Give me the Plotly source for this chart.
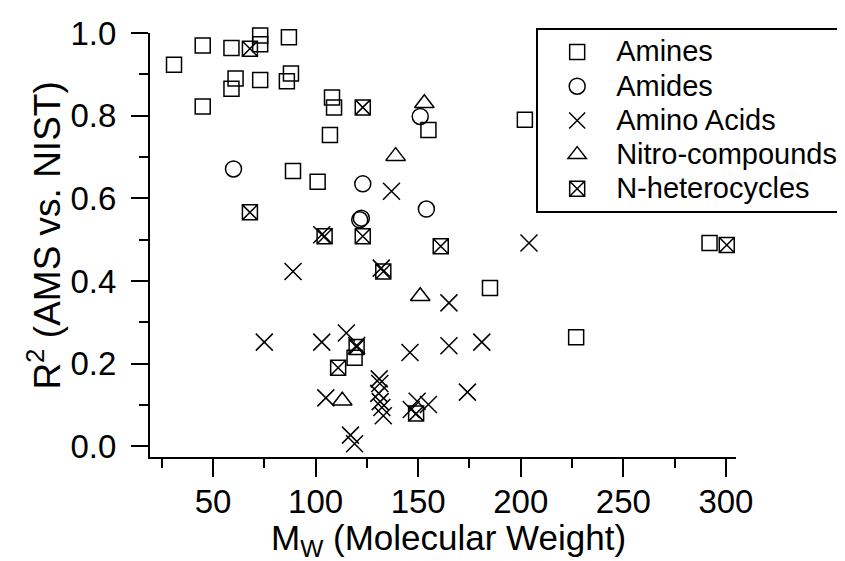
import plotly.graph_objects as go

# ---- data ----
amines_mw = [31, 45, 59, 73, 73, 87, 61, 59, 73, 88, 86, 45, 108, 109, 107, 89, 101, 155, 202, 185, 227, 119, 292]
amines_r2 = [0.923, 0.970, 0.964, 0.994, 0.973, 0.990, 0.890, 0.865, 0.886, 0.902, 0.883, 0.822, 0.844, 0.820, 0.753, 0.666, 0.640, 0.765, 0.790, 0.383, 0.264, 0.214, 0.492]

amides_mw = [60, 123, 121.5, 122.3, 151, 154]
amides_r2 = [0.671, 0.635, 0.548, 0.552, 0.798, 0.574]

amino_mw = [137, 103, 89, 132, 75, 103, 115, 120, 105, 117, 119, 131, 131.3, 130.8, 131.5, 132.3, 133,
            204, 165, 146, 165, 181, 174, 149.5, 155, 146.6]
amino_r2 = [0.617, 0.512, 0.423, 0.431, 0.252, 0.252, 0.274, 0.244, 0.117, 0.027, 0.006, 0.163, 0.152, 0.128, 0.108, 0.094, 0.074,
            0.492, 0.347, 0.227, 0.243, 0.252, 0.131, 0.109, 0.101, 0.089]

nitro_mw = [153, 139, 151, 113]
nitro_r2 = [0.830, 0.702, 0.363, 0.110]

nhet_mw = [68, 123, 68, 123, 104.4, 133, 161, 120, 111, 149, 300.4]
nhet_r2 = [0.962, 0.820, 0.566, 0.508, 0.508, 0.423, 0.484, 0.240, 0.190, 0.079, 0.487]

series_names = ["Amines", "Amides", "Amino Acids", "Nitro-compounds", "N-heterocycles"]
series_x = [amines_mw, amides_mw, amino_mw, nitro_mw, nhet_mw]
series_y = [amines_r2, amides_r2, amino_r2, nitro_r2, nhet_r2]
series_symbols = ["square-open", "circle-open", "x-thin-open", "triangle-up-open", "square-x-open"]
series_sizes = [15, 16, 17, 17, 15]

x_title = "M<sub>W</sub> (Molecular Weight)"
y_title = "R<sup>2</sup> (AMS vs. NIST)"

FONT = "Liberation Sans, Arial, sans-serif"
LEGEND_TEXT_PX = 29

fig = go.Figure()
for name, xs, ys, sym, size in zip(series_names, series_x, series_y, series_symbols, series_sizes):
    fig.add_trace(go.Scatter(
        x=xs, y=ys, mode="markers", cliponaxis=False,
        name=f'<span style="font-size:{LEGEND_TEXT_PX}px">{name}&nbsp;</span>',
        marker=dict(symbol=sym, size=size, color="black",
                    line=dict(color="black", width=1.5)),
    ))

fig.update_layout(
    width=845, height=561,
    paper_bgcolor="white", plot_bgcolor="white",
    margin=dict(l=142, r=117, t=25, b=112, autoexpand=False),
    font=dict(family=FONT, color="black", size=30),
    showlegend=True,
    legend=dict(
        x=0.659, y=1.012, xanchor="left", yanchor="top",
        bordercolor="black", borderwidth=2, bgcolor="white",
        font=dict(family=FONT, size=24, color="black"),
        itemwidth=68, tracegroupgap=0,
    ),
    annotations=[
        dict(text=x_title, xref="paper", yref="paper", x=0.510, y=-0.196,
             xanchor="center", yanchor="middle", showarrow=False,
             font=dict(family=FONT, size=35, color="black")),
        dict(text=y_title, xref="paper", yref="paper", x=-0.180, y=0.521,
             xanchor="center", yanchor="middle", showarrow=False, textangle=-90,
             font=dict(family=FONT, size=37, color="black")),
    ],
)

fig.update_xaxes(
    range=[19.3, 304.9], tick0=0, dtick=50, showgrid=False, zeroline=False,
    showline=True, linecolor="black", linewidth=2,
    ticks="outside", ticklen=18, tickwidth=2, tickcolor="black",
    tickfont=dict(family=FONT, size=33), ticklabelstandoff=-4,
    minor=dict(dtick=25, ticks="outside", ticklen=9, tickwidth=2, tickcolor="black", showgrid=False),
)
fig.update_yaxes(
    range=[-0.026, 1.0], tick0=0, dtick=0.2, tickformat=".1f", showgrid=False, zeroline=False,
    showline=True, linecolor="black", linewidth=2,
    ticks="outside", ticklen=17, tickwidth=2, tickcolor="black",
    tickfont=dict(family=FONT, size=33), ticklabelstandoff=8,
    minor=dict(dtick=0.1, ticks="outside", ticklen=9, tickwidth=2, tickcolor="black", showgrid=False),
)

fig.write_html("out.html")
